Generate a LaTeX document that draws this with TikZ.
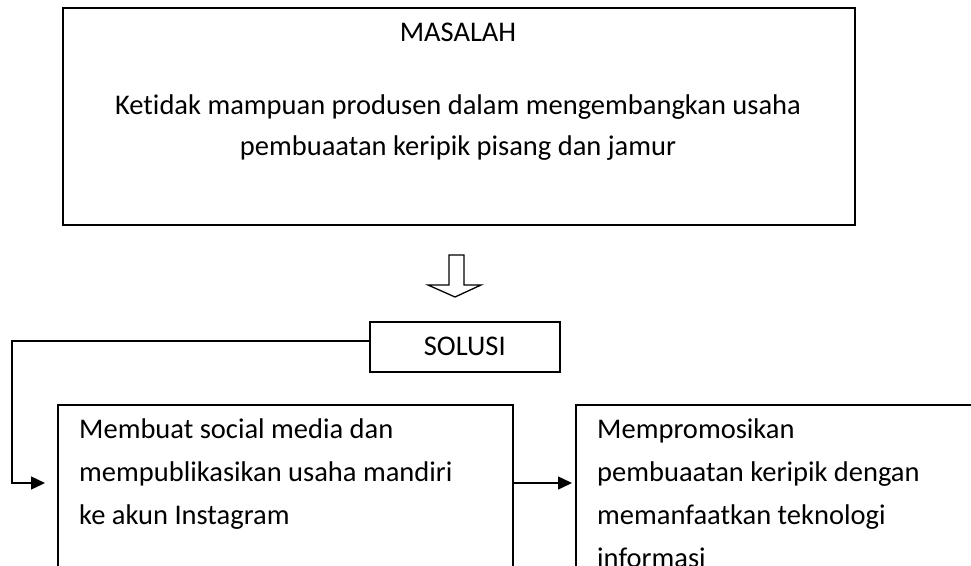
\documentclass[tikz,border=0pt]{standalone}
\usepackage{fontspec}
\setmainfont{Carlito}[Ligatures=NoCommon]
\usetikzlibrary{positioning, arrows.meta, calc}

\begin{document}
\begin{tikzpicture}[
    x=1pt, y=-1pt,
    >={Triangle[length=14pt, width=13pt]},
    kotak/.style={draw, line width=1.6pt, inner sep=0pt, anchor=north west},
    teks/.style={font=\fontsize{28.5}{43}\selectfont, inner sep=0pt},
    isi/.style={teks, align=left, anchor=north west},
    garis/.style={line width=1.4pt}
  ]
  \useasboundingbox (0,0) rectangle (971,565);
  \clip (0,0) rectangle (971,565);

  % masalah
  \node[kotak, minimum width=792pt, minimum height=217pt] (masalah) at (62,7) {};
  \node[teks] (judul) at (458,32) {MASALAH};
  \node[teks, align=center, font=\fontsize{28.5}{41}\selectfont] (uraian) at (458,128)
    {Ketidak mampuan produsen dalam mengembangkan usaha\\pembuaatan keripik pisang dan jamur};

  % panah kosong
  \draw[line width=1.3pt] (449,255) -- (464,255) -- (464,285) -- (481,285)
    -- (455,297) -- (428,285) -- (449,285) -- cycle;

  % solusi
  \node[kotak, teks, minimum width=190pt, minimum height=50pt] (solusi) at (369,321) {SOLUSI};

  \node[kotak, minimum width=455pt, minimum height=250pt] (aksi1) at (57,404) {};
  \node[isi] (aksi1teks) at (79,419)
    {Membuat social media dan\\mempublikasikan usaha mandiri\\ke akun Instagram};
  \node[kotak, minimum width=500pt, minimum height=250pt] (aksi2) at (575,404) {};
  \node[isi] (aksi2teks) at (597,419)
    {Mempromosikan\\pembuaatan keripik dengan\\memanfaatkan teknologi\\informasi};

  \coordinate (sudut) at (12,341);
  \coordinate (masuk) at (45,483);
  \draw[garis, ->] (solusi.west |- sudut) -- (sudut) |- (masuk);
  \draw[garis, ->, shorten >=3pt] (aksi1.east |- masuk) -- (aksi2.west |- masuk);
\end{tikzpicture}
\end{document}
